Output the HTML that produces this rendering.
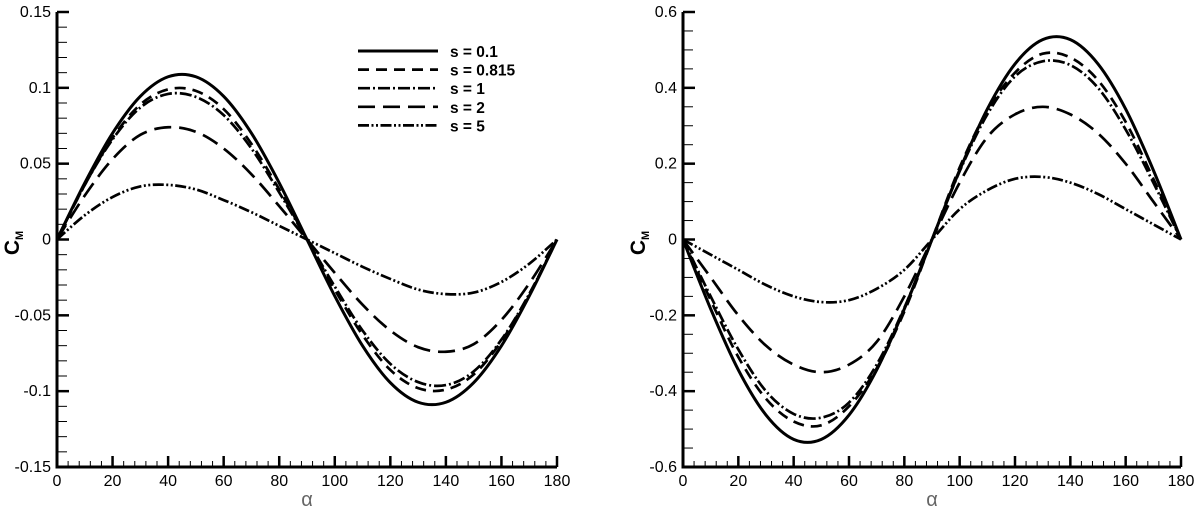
<!DOCTYPE html>
<html><head><meta charset="utf-8"><style>
html,body{margin:0;padding:0;background:#fff;}
svg{display:block;font-family:"Liberation Sans",sans-serif;}
</style></head><body>
<svg id="fig" width="1200" height="511"></svg>
<script>
const alphaDeg=[0,10,20,30,40,50,60,70,80,90,100,110,120,130,140,150,160,170,180];
const seriesLabels=["s = 0.1","s = 0.815","s = 1","s = 2","s = 5"];
const leftS01=[0,0.0373,0.0701,0.0944,0.1073,0.1073,0.0944,0.0701,0.0373,0,-0.0373,-0.0701,-0.0944,-0.1073,-0.1073,-0.0944,-0.0701,-0.0373,0];
const leftS0815=[0,0.036,0.067,0.089,0.099,0.098,0.086,0.063,0.033,0,-0.033,-0.063,-0.086,-0.098,-0.099,-0.089,-0.067,-0.036,0];
const leftS1=[0,0.036,0.066,0.087,0.096,0.094,0.082,0.060,0.031,0,-0.031,-0.060,-0.082,-0.094,-0.096,-0.087,-0.066,-0.036,0];
const leftS2=[0,0.029,0.053,0.069,0.074,0.071,0.060,0.043,0.022,0,-0.022,-0.043,-0.060,-0.071,-0.074,-0.069,-0.053,-0.029,0];
const leftS5=[0,0.016,0.028,0.035,0.036,0.033,0.026,0.018,0.009,0,-0.009,-0.018,-0.026,-0.033,-0.036,-0.035,-0.028,-0.016,0];
const rightS01=[0,-0.183,-0.344,-0.463,-0.527,-0.527,-0.463,-0.344,-0.183,0,0.183,0.344,0.463,0.527,0.527,0.463,0.344,0.183,0];
const rightS0815=[0,-0.16,-0.31,-0.42,-0.48,-0.49,-0.44,-0.34,-0.19,0,0.19,0.34,0.44,0.49,0.48,0.42,0.31,0.16,0];
const rightS1=[0,-0.15,-0.29,-0.40,-0.46,-0.47,-0.43,-0.33,-0.18,0,0.18,0.33,0.43,0.47,0.46,0.40,0.29,0.15,0];
const rightS2=[0,-0.10,-0.20,-0.28,-0.33,-0.35,-0.33,-0.27,-0.15,0,0.15,0.27,0.33,0.35,0.33,0.28,0.20,0.10,0];
const rightS5=[0,-0.04,-0.08,-0.12,-0.15,-0.165,-0.16,-0.13,-0.08,0,0.08,0.13,0.16,0.165,0.15,0.12,0.08,0.04,0];
const xTicks=[0,20,40,60,80,100,120,140,160,180];
const leftYTicks=[-0.15,-0.1,-0.05,0,0.05,0.1,0.15];
const leftYLabels=["-0.15","-0.1","-0.05","0","0.05","0.1","0.15"];
const rightYTicks=[-0.6,-0.4,-0.2,0,0.2,0.4,0.6];
const rightYLabels=["-0.6","-0.4","-0.2","0","0.2","0.4","0.6"];

const NS="http://www.w3.org/2000/svg";
const svg=document.getElementById('fig');
function mk(tag,attrs,parent){const e=document.createElementNS(NS,tag);for(const k in attrs)e.setAttribute(k,attrs[k]);(parent||svg).appendChild(e);return e;}
const dashes=["","11,7","12,3,2,3","17,8","11,2.5,2,2.5,2,2.5"];

function panel(cfg){
  const g=mk('g',{});
  
  
  const x0=cfg.x0,x1=cfg.x1,yT=12,yB=467;
  const sx=v=>x0+(v-0)/(180-0)*(x1-x0);
  const sy=v=>yB-(v-cfg.ymin)/(cfg.ymax-cfg.ymin)*(yB-yT);
  for(let v=0;v<=180;v+=4){const t=mk('line',{x1:sx(v),x2:sx(v),y1:yB,y2:yB-6,stroke:'#000','stroke-width':1},g);
    }
  xTicks.forEach(v=>{const t=mk('line',{x1:sx(v),x2:sx(v),y1:yB,y2:yB-11,stroke:'#000','stroke-width':2.5},g);
    
    const l=mk('text',{x:sx(v),y:yB+19,'text-anchor':'middle','font-size':16},g);l.textContent=v;
    });
  const step=(cfg.yTicks[1]-cfg.yTicks[0])/cfg.minorDiv;
  for(let i=0;i<=(cfg.ymax-cfg.ymin)/step+0.01;i++){const v=cfg.ymin+i*step;
    const t=mk('line',{x1:x0,x2:x0+10,y1:sy(v),y2:sy(v),stroke:'#000','stroke-width':1},g);
    }
  cfg.yTicks.forEach((v,i)=>{const t=mk('line',{x1:x0,x2:x0+12,y1:sy(v),y2:sy(v),stroke:'#000','stroke-width':2.5},g);
    
    const l=mk('text',{x:x0-6,y:sy(v)+5,'text-anchor':'end','font-size':16},g);l.textContent=cfg.yLabels[i];
    });
  const ax=mk('path',{d:`M${x0},${yT}V${yB}H${x1}`,fill:'none',stroke:'#000','stroke-width':3},g);
  
  const yl=mk('text',{transform:`translate(${x0-38},${243}) rotate(-90)`,'text-anchor':'middle','font-size':21,'font-weight':'bold'},g);
  yl.innerHTML='C<tspan font-size="11" dy="4">M</tspan>';
  
  const xl=mk('text',{x:(x0+x1)/2,y:506,'text-anchor':'middle','font-size':20,fill:'#666'},g);xl.textContent='α';
  
  cfg.series.forEach((arr,k)=>{
    const pts=alphaDeg.map((a,i)=>[sx(a),sy(arr[i])]);
    let d=`M${pts[0][0]},${pts[0][1]}`;
    for(let i=0;i<pts.length-1;i++){const p0=pts[Math.max(0,i-1)],p1=pts[i],p2=pts[i+1],p3=pts[Math.min(pts.length-1,i+2)];
      const c1=[p1[0]+(p2[0]-p0[0])/6,p1[1]+(p2[1]-p0[1])/6],c2=[p2[0]-(p3[0]-p1[0])/6,p2[1]-(p3[1]-p1[1])/6];
      d+=`C${c1[0]},${c1[1]} ${c2[0]},${c2[1]} ${p2[0]},${p2[1]}`;}
    const p=mk('path',{d:d,fill:'none',stroke:'#000','stroke-width':k==0?3:2.7,'stroke-dasharray':dashes[k]},g);
    
  });
}
panel({name:'left-panel',x0:57,x1:557,ymin:-0.15,ymax:0.15,yTicks:leftYTicks,yLabels:leftYLabels,minorDiv:5,
  series:[leftS01,leftS0815,leftS1,leftS2,leftS5]});
panel({name:'right-panel',x0:683,x1:1181,ymin:-0.6,ymax:0.6,yTicks:rightYTicks,yLabels:rightYLabels,minorDiv:4,
  series:[rightS01,rightS0815,rightS1,rightS2,rightS5]});
const lg=mk('g',{});

seriesLabels.forEach((s,k)=>{const y=51+k*18.6;
  const l=mk('line',{x1:358,x2:438,y1:y,y2:y,stroke:'#000','stroke-width':k==0?3:2.7,'stroke-dasharray':dashes[k]},lg);
  
  const t=mk('text',{x:450,y:y+6,'font-size':15.5,'font-weight':'bold'},lg);t.textContent=s;
  });
</script>
</body></html>
